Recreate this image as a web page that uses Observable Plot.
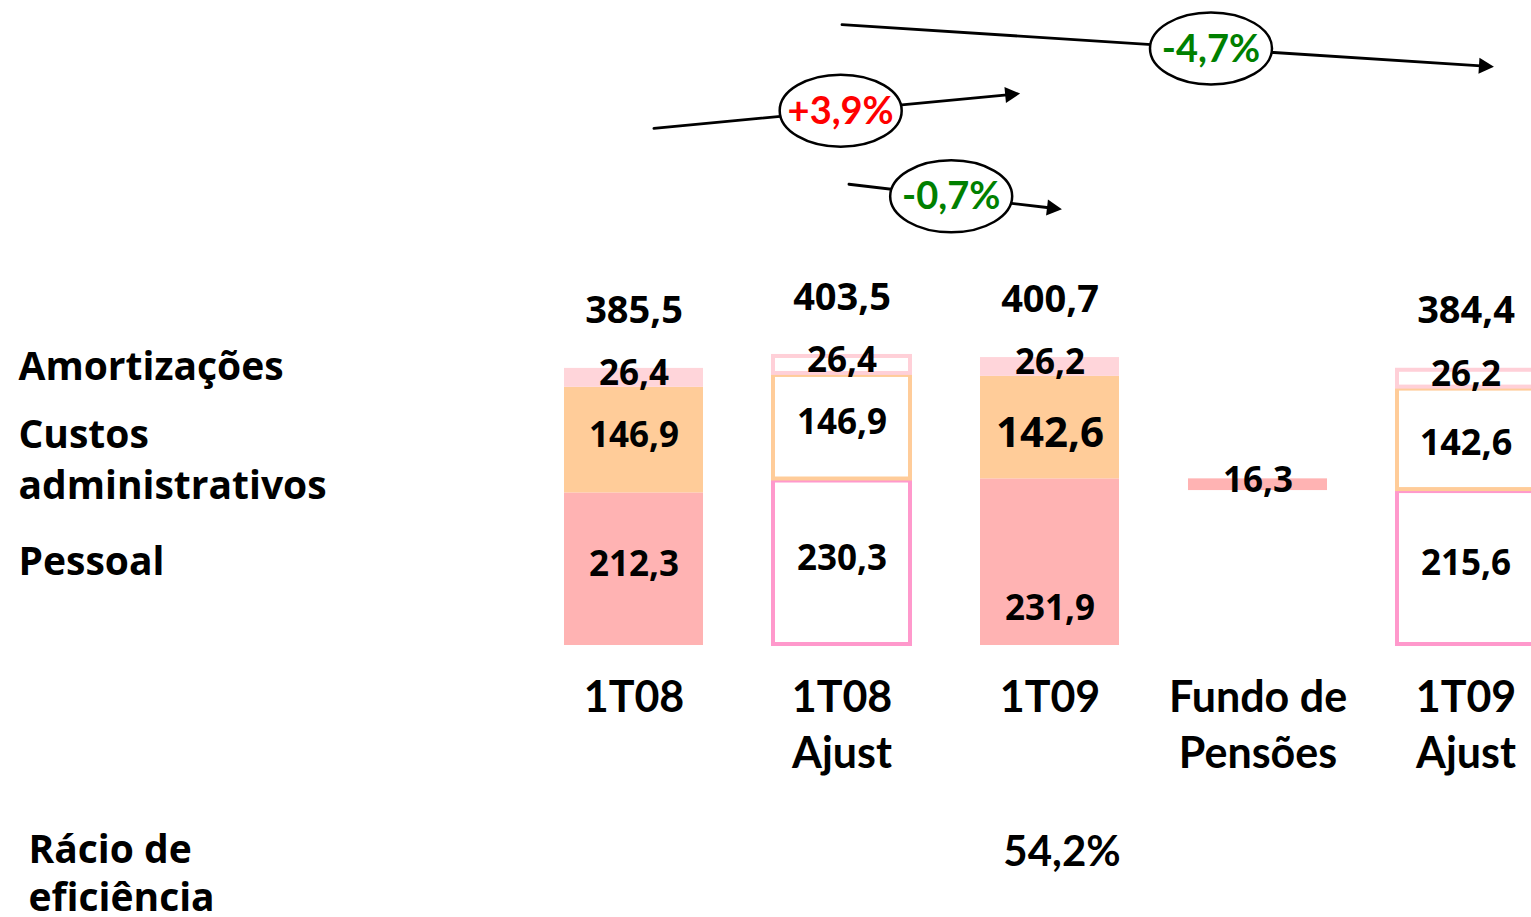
<!DOCTYPE html>
<html><head><meta charset="utf-8">
<script src="https://cdn.jsdelivr.net/npm/d3@7"></script>
<script src="https://cdn.jsdelivr.net/npm/@observablehq/plot@0.6"></script>
<style>
html,body{margin:0;padding:0;background:#fff;overflow:hidden;}
#chart svg{display:block;}
</style></head><body><div id="chart"></div>
<script>
// ---- data ----
const categories = ["1T08", "1T08 Ajust", "1T09", "Fundo de Pensões", "1T09 Ajust"];
const categoryLabels = ["1T08", "1T08\nAjust", "1T09", "Fundo de\nPensões", "1T09\nAjust"];
const pessoal = [212.3, 230.3, 231.9, null, 215.6];
const custos = [146.9, 146.9, 142.6, null, 142.6];
const amortizacoes = [26.4, 26.4, 26.2, null, 26.2];
const totais = [385.5, 403.5, 400.7, null, 384.4];
const fundoPensoes = 16.3;
const ajustado = [false, true, false, false, true];
const seriesLabels = ["Pessoal", "Custos\nadministrativos", "Amortizações"];
const racioLabel = "Rácio de\neficiência";
const racioValues = [null, null, 54.2, null, null];
const changeFrom = ["1T08", "1T08 Ajust", "1T08 Ajust"];
const changeTo = ["1T09", "1T09", "1T09 Ajust"];
const changeValues = [3.9, -0.7, -4.7];

// ---- styles ----
const fillColors = {Pessoal: "#FFB3B3", Custos: "#FFCC99", Amort: "#FFD5DA", Fundo: "#FFB3B3"};
const strokeColors = {Pessoal: "#FF99CC", Custos: "#FFCC99", Amort: "#FFD0D8", Fundo: "#FFB3B3"};
const fmt = v => v.toFixed(1).replace(".", ",");
const fmtPct = v => (v > 0 ? "+" : "") + v.toFixed(1).replace(".", ",") + "%";

// ---- table ----
const rows = [];
categories.forEach((c, i) => {
  if (pessoal[i] == null) {
    const top = pessoal[2];
    rows.push({cat: c, series: "Fundo", y1: top - fundoPensoes, y2: top, value: fundoPensoes, adj: false});
    return;
  }
  let base = 0;
  [["Pessoal", pessoal[i]], ["Custos", custos[i]], ["Amort", amortizacoes[i]]].forEach(([s, v]) => {
    rows.push({cat: c, series: s, y1: base, y2: base + v, value: v, adj: ajustado[i]});
    base += v;
  });
});
const totalRows = categories.map((c, i) => ({cat: c, total: totais[i]})).filter(d => d.total != null);
const racioRows = categories.map((c, i) => ({cat: c, v: racioValues[i]})).filter(d => d.v != null);
const mid = d => (d.y1 + d.y2) / 2;

const W = 1531, H = 917;
const xOpts = {type: "band", domain: categories, range: [563, 1536.5], paddingInner: 0.331, paddingOuter: 0, align: 0.5};
const yOpts = {type: "linear", domain: [0, 400], range: [645, 645 - 400 * 0.7186]};
const base = {width: W, height: H, marginTop: 0, marginBottom: 272, marginLeft: 18, marginRight: 0};

// probe scales for annotation geometry
const probe = Plot.plot({...base, x: xOpts, y: yOpts, marks: [Plot.barY(categories, {x: d => d, y: () => 1})]});
const sx = probe.scale("x"), sy = probe.scale("y");
const cx = c => sx.apply(c) + sx.bandwidth / 2;
const py = v => sy.apply(v);

// annotation layout (vertical levels in value units, insets in px)
const arrowLayout = [
  {y1: 717, y2: 772, insetStart: 20, insetEnd: 30, t: 0.51},
  {y1: 643, y2: 609, insetStart: 7, insetEnd: -12, t: 0.48},
  {y1: 864, y2: 808, insetStart: 0, insetEnd: -28, t: 0.566}
];
const headLen = 15, headHalf = 8;
const arrowHead = {draw(ctx) { ctx.moveTo(0, 0); ctx.lineTo(-headLen, -headHalf); ctx.lineTo(-headLen, headHalf); ctx.closePath(); }};
const ellipse = {draw(ctx) {
  const rx = 61, ry = 36, k = 0.5523;
  ctx.moveTo(rx, 0);
  ctx.bezierCurveTo(rx, ry * k, rx * k, ry, 0, ry);
  ctx.bezierCurveTo(-rx * k, ry, -rx, ry * k, -rx, 0);
  ctx.bezierCurveTo(-rx, -ry * k, -rx * k, -ry, 0, -ry);
  ctx.bezierCurveTo(rx * k, -ry, rx, -ry * k, rx, 0);
  ctx.closePath();
}};

const annotationMarks = [];
changeValues.forEach((v, i) => {
  const L = arrowLayout[i];
  const d = {from: changeFrom[i], to: changeTo[i], y1: L.y1, y2: L.y2, label: fmtPct(v)};
  const x0 = cx(d.from), y0 = py(d.y1), x3 = cx(d.to), y3 = py(d.y2);
  const ang = Math.atan2(y3 - y0, x3 - x0), c = Math.cos(ang), s = Math.sin(ang);
  const sxp = x0 + L.insetStart * c, syp = y0 + L.insetStart * s;
  const tx = x3 - L.insetEnd * c, ty = y3 - L.insetEnd * s;
  const ex = sxp + L.t * (tx - sxp), ey = syp + L.t * (ty - syp);
  annotationMarks.push(
    Plot.arrow([d], {x1: "from", y1: "y1", x2: "to", y2: "y2", insetStart: L.insetStart, insetEnd: L.insetEnd + headLen - 2, headLength: 0, stroke: "black", strokeWidth: 2.8}),
    Plot.dot([d], {x: "to", y: "y2", dx: tx - x3, dy: ty - y3, symbol: arrowHead, rotate: ang * 180 / Math.PI, fill: "black", stroke: "none"}),
    Plot.dot([d], {x: "from", y: "y1", dx: ex - x0, dy: ey - y0, symbol: ellipse, fill: "white", stroke: "black", strokeWidth: 2.5}),
    Plot.text([d], {x: "from", y: "y1", dx: ex - x0, dy: ey - y0 + 1, text: "label", fill: v > 0 ? "#FF0000" : "#008000", fontFamily: "Lato", fontWeight: "bold", fontSize: 38})
  );
});

const numFont = {fontFamily: "Open Sans", fontWeight: "bold", fill: "black"};
const is1T09 = d => d.cat === "1T09";
const isQ109 = d => d.cat.startsWith("1T09");
const seg1T08 = s => rows.find(d => d.cat === "1T08" && d.series === s);

const chart = Plot.plot({
  ...base,
  style: {background: "white", color: "black", fontFamily: "Open Sans"},
  x: {...xOpts, axis: null},
  y: {...yOpts, axis: null},
  marks: [
    Plot.barY(rows.filter(d => !d.adj), {x: "cat", y1: "y1", y2: "y2", fill: d => fillColors[d.series]}),
    Plot.barY(rows.filter(d => d.adj), {x: "cat", y1: "y1", y2: "y2", fill: "white", stroke: d => strokeColors[d.series], strokeWidth: 4, inset: 1}),
    // segment labels
    Plot.text(rows.filter(d => !(is1T09(d) && d.series === "Pessoal") && !(isQ109(d) && d.series === "Custos")), {x: "cat", y: mid, dy: -4, text: d => fmt(d.value), fontSize: 35, ...numFont}),
    Plot.text(rows.filter(d => is1T09(d) && d.series === "Custos"), {x: "cat", y: mid, dy: 6, text: d => fmt(d.value), fontSize: 42, ...numFont}),
    Plot.text(rows.filter(d => d.cat === "1T09 Ajust" && d.series === "Custos"), {x: "cat", y: mid, dy: 4, text: d => fmt(d.value), fontSize: 36, ...numFont}),
    Plot.text(rows.filter(d => is1T09(d) && d.series === "Pessoal"), {x: "cat", y: mid, dy: 47, text: d => fmt(d.value), fontSize: 35, ...numFont}),
    // totals
    Plot.text(totalRows, {x: "cat", y: "total", dy: -58, text: d => fmt(d.total), fontSize: 38, ...numFont}),
    // category axis
    Plot.axisX({tickSize: 0, tickPadding: 27, tickFormat: d => categoryLabels[categories.indexOf(d)], fontFamily: "Lato", fontWeight: "bold", fontSize: 43, lineHeight: 1.3, label: null}),
    // series labels on the left
    Plot.text([seg1T08("Amort")], {frameAnchor: "left", y: mid, dy: -10, text: () => seriesLabels[2], textAnchor: "start", fontSize: 39, ...numFont}),
    Plot.text([seg1T08("Custos")], {frameAnchor: "left", y: mid, dy: 17, text: () => seriesLabels[1], textAnchor: "start", lineHeight: 1.3, fontSize: 39, ...numFont}),
    Plot.text([seg1T08("Pessoal")], {frameAnchor: "left", y: mid, dy: -7, text: () => seriesLabels[0], textAnchor: "start", fontSize: 39, ...numFont}),
    // efficiency ratio
    Plot.text([racioLabel], {frameAnchor: "bottom-left", lineAnchor: "middle", dx: 10, dy: 226, text: d => d, textAnchor: "start", lineHeight: 1.24, fontSize: 39, ...numFont}),
    Plot.text(racioRows, {x: "cat", frameAnchor: "bottom", lineAnchor: "middle", dx: 12, dy: 207, text: d => fmtPct(d.v).replace("+", ""), fontFamily: "Lato", fontWeight: "bold", fontSize: 42, fill: "black"}),
    ...annotationMarks
  ]
});
document.getElementById("chart").appendChild(chart);
</script></body></html>
